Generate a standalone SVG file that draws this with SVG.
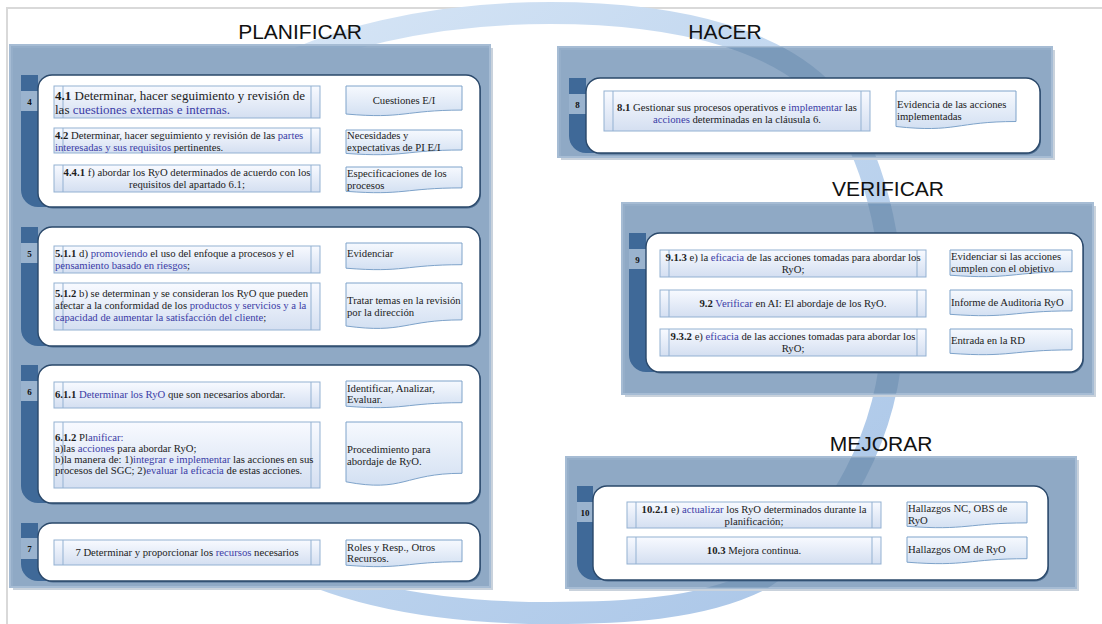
<svg xmlns="http://www.w3.org/2000/svg" width="1102" height="624" viewBox="0 0 1102 624">
  <defs>
    <style>
      .ttl{font-family:"Liberation Sans",Arial,sans-serif;font-size:21px;fill:#111;text-anchor:middle}
      .s{font-family:"Liberation Serif","Times New Roman",serif;font-size:10.7px;fill:#1c1c1c}
      .L{font-size:13px}
      .b{font-weight:bold}
      .k{fill:#3b3ca6}
      .c{text-anchor:middle}
      .num{font-family:"Liberation Serif","Times New Roman",serif;font-size:9px;font-weight:bold;fill:#111;text-anchor:middle}
      .panel{fill:#86a3c2;fill-opacity:0.88;stroke:#a6bcd4;stroke-width:2}
      .pshadow{fill:#c9d2dc}
      .dark{fill:#3f6998}
      .cell{fill:#9ab3ce}
      .wbox{fill:#ffffff;stroke:#2a486a;stroke-width:1.4}
      .wshadow{fill:#4d6d90}
      .proc{fill:url(#gProc);stroke:#93b1d2;stroke-width:1}
      .inner{stroke:#93b1d2;stroke-width:1}
      .doc{fill:url(#gDoc);stroke:#7ea3ca;stroke-width:1}
      .arr{stroke:#5f92c5;stroke-width:1;fill:none;marker-end:url(#ah)}
    </style>
    <linearGradient id="gProc" x1="0" y1="0" x2="0" y2="1">
      <stop offset="0" stop-color="#f8faff"/>
      <stop offset="1" stop-color="#d4dff1"/>
    </linearGradient>
    <linearGradient id="gDoc" x1="0" y1="0" x2="0" y2="1">
      <stop offset="0" stop-color="#f6f9fe"/>
      <stop offset="1" stop-color="#d3e0f2"/>
    </linearGradient>
    <linearGradient id="gRing" x1="0" y1="0" x2="1" y2="1">
      <stop offset="0" stop-color="#dce9f7"/>
      <stop offset="0.5" stop-color="#c0d6ef"/>
      <stop offset="1" stop-color="#a9c5e7"/>
    </linearGradient>
    <marker id="ah" viewBox="0 0 6 6" refX="5.5" refY="3" markerWidth="5" markerHeight="5" orient="auto" markerUnits="userSpaceOnUse">
      <path d="M0,0 L6,3 L0,6 Z" fill="#5f92c5"/>
    </marker>
    <clipPath id="rightPanels">
      <rect x="558" y="47" width="494" height="110"/>
      <rect x="622" y="203" width="471" height="191"/>
      <rect x="566" y="457" width="513" height="131"/>
    </clipPath>
  </defs>

  <rect x="0" y="0" width="1102" height="624" fill="#ffffff"/>
  <!-- outer frame -->
  <path d="M7,624 V8 H1102" fill="none" stroke="#d9d9d9" stroke-width="2"/>

  <!-- background cycle ring -->
  <path id="ring" d="M550,13 C680,13 790,40 840,110 C880,170 895,260 893,330 C890,430 840,530 760,580 C700,610 620,613 550,613 C450,613 350,600 270,555 C180,500 125,420 122,330 C120,230 160,150 240,90 C320,35 440,13 550,13 Z" fill="none" stroke="url(#gRing)" stroke-width="22"/>

  <!-- panels -->
  <rect class="pshadow" x="13" y="48" width="480" height="542"/>
  <rect class="panel" x="10" y="45" width="480" height="542"/>
  <rect class="pshadow" x="561" y="50" width="494" height="110"/>
  <rect class="panel" x="558" y="47" width="494" height="110"/>
  <rect class="pshadow" x="625" y="206" width="471" height="191"/>
  <rect class="panel" x="622" y="203" width="471" height="191"/>
  <rect class="pshadow" x="569" y="460" width="510" height="131"/>
  <rect class="panel" x="566" y="457" width="510" height="131"/>
  <path d="M550,13 C680,13 790,40 840,110 C880,170 895,260 893,330 C890,430 840,530 760,580 C700,610 620,613 550,613" fill="none" stroke="#2f5f93" stroke-opacity="0.2" stroke-width="22" clip-path="url(#rightPanels)"/>

  <!-- titles -->
  <text class="ttl" x="300" y="39">PLANIFICAR</text>
  <text class="ttl" x="725" y="39">HACER</text>
  <text class="ttl" x="888" y="196">VERIFICAR</text>
  <text class="ttl" x="881" y="451">MEJORAR</text>

  <!-- connectors -->
  <g id="connectors">
    <line class="arr" x1="320" y1="102" x2="346" y2="102"/>
    <line class="arr" x1="320" y1="141" x2="346" y2="141"/>
    <line class="arr" x1="320" y1="178" x2="346" y2="178"/>
    <line class="arr" x1="320" y1="259" x2="346" y2="256"/>
    <line class="arr" x1="320" y1="307" x2="346" y2="307"/>
    <line class="arr" x1="320" y1="395" x2="346" y2="395"/>
    <line class="arr" x1="320" y1="452" x2="346" y2="452"/>
    <line class="arr" x1="320" y1="552" x2="346" y2="552"/>
    <line class="arr" x1="870" y1="114" x2="896" y2="114"/>
    <line class="arr" x1="926" y1="263" x2="950" y2="263"/>
    <line class="arr" x1="926" y1="303" x2="950" y2="303"/>
    <line class="arr" x1="926" y1="342" x2="950" y2="342"/>
    <line class="arr" x1="881" y1="514" x2="907" y2="514"/>
    <line class="arr" x1="881" y1="550" x2="907" y2="550"/>
  </g>

  <!-- clause 4 -->
  <g id="g4">
    <rect class="dark" x="21" y="75" width="17" height="16"/>
    <rect class="cell" x="21" y="91" width="17" height="20"/>
    <path class="dark" d="M21,111 H50 V207 H38 A17,17 0 0 1 21,190 Z"/>
    <rect class="wshadow" x="39" y="76.5" width="442" height="132" rx="14"/>
    <rect class="wbox" x="38" y="75" width="442" height="132" rx="14"/>
    <text class="num" x="29.5" y="105">4</text>
    <g id="p41">
      <rect class="proc" x="54" y="86" width="266" height="32"/>
      <line class="inner" x1="63" y1="86" x2="63" y2="118"/>
      <line class="inner" x1="311" y1="86" x2="311" y2="118"/>
      <text class="s L" x="55" y="100"><tspan class="b">4.1</tspan> Determinar, hacer seguimiento y revisión de</text>
      <text class="s L" x="55" y="114">las <tspan class="k">cuestiones externas e internas.</tspan></text>
    </g>
    <g id="d41">
      <path class="doc" d="M346,86 H462 V110.1 C404,110.1 404,119.2 346,114 Z"/>
      <text class="s c" x="404" y="104">Cuestiones E/I</text>
    </g>
    <g id="p42">
      <rect class="proc" x="54" y="128" width="266" height="25"/>
      <line class="inner" x1="63" y1="128" x2="63" y2="153"/>
      <line class="inner" x1="311" y1="128" x2="311" y2="153"/>
      <text class="s" x="55" y="139"><tspan class="b">4.2</tspan> Determinar, hacer seguimiento y revisión de las <tspan class="k">partes</tspan></text>
      <text class="s" x="55" y="150.5"><tspan class="k">interesadas y sus requisitos</tspan> pertinentes.</text>
    </g>
    <g id="d42">
      <path class="doc" d="M346,130 H462 V150 C404,150 404,157.7 346,153.4 Z"/>
      <text class="s" x="347" y="139">Necesidades y</text>
      <text class="s" x="347" y="150.5">expectativas de PI E/I</text>
    </g>
    <g id="p441">
      <rect class="proc" x="54" y="165" width="266" height="27"/>
      <line class="inner" x1="63" y1="165" x2="63" y2="192"/>
      <line class="inner" x1="311" y1="165" x2="311" y2="192"/>
      <text class="s c" x="187" y="176"><tspan class="b">4.4.1</tspan> f) abordar los RyO determinados de acuerdo con los</text>
      <text class="s c" x="187" y="188">requisitos del apartado 6.1;</text>
    </g>
    <g id="d441">
      <path class="doc" d="M346,167 H462 V187.9 C404,187.9 404,195.8 346,191.3 Z"/>
      <text class="s" x="347" y="177">Especificaciones de los</text>
      <text class="s" x="347" y="189">procesos</text>
    </g>
  </g>

  <!-- clause 5 -->
  <g id="g5">
    <rect class="dark" x="21" y="227" width="17" height="16"/>
    <rect class="cell" x="21" y="243" width="17" height="20"/>
    <path class="dark" d="M21,263 H50 V346 H38 A17,17 0 0 1 21,329 Z"/>
    <rect class="wshadow" x="39" y="228.5" width="442" height="119" rx="14"/>
    <rect class="wbox" x="38" y="227" width="442" height="119" rx="14"/>
    <text class="num" x="29.5" y="257">5</text>
    <g id="p511">
      <rect class="proc" x="54" y="246" width="266" height="27"/>
      <line class="inner" x1="63" y1="246" x2="63" y2="273"/>
      <line class="inner" x1="311" y1="246" x2="311" y2="273"/>
      <text class="s" x="55" y="257"><tspan class="b">5.1.1</tspan> d) <tspan class="k">promoviendo</tspan> el uso del enfoque a procesos y el</text>
      <text class="s" x="55" y="269"><tspan class="k">pensamiento basado en riesgos</tspan>;</text>
    </g>
    <g id="d511">
      <path class="doc" d="M346,243 H462 V264.7 C404,264.7 404,272.9 346,268.2 Z"/>
      <text class="s" x="347" y="257">Evidenciar</text>
    </g>
    <g id="p512">
      <rect class="proc" x="54" y="283" width="266" height="47"/>
      <line class="inner" x1="63" y1="283" x2="63" y2="330"/>
      <line class="inner" x1="311" y1="283" x2="311" y2="330"/>
      <text class="s" x="55" y="297"><tspan class="b">5.1.2</tspan> b) se determinan y se consideran los RyO que pueden</text>
      <text class="s" x="55" y="309">afectar a la conformidad de los <tspan class="k">productos y servicios y a la</tspan></text>
      <text class="s" x="55" y="321"><tspan class="k">capacidad de aumentar la satisfacción del cliente</tspan>;</text>
    </g>
    <g id="d512">
      <path class="doc" d="M346,283 H462 V319.9 C404,319.9 404,333.9 346,326 Z"/>
      <text class="s" x="347" y="304">Tratar temas en la revisión</text>
      <text class="s" x="347" y="316">por la dirección</text>
    </g>
  </g>

  <!-- clause 6 -->
  <g id="g6">
    <rect class="dark" x="21" y="365" width="17" height="16"/>
    <rect class="cell" x="21" y="381" width="17" height="20"/>
    <path class="dark" d="M21,401 H50 V503 H38 A17,17 0 0 1 21,486 Z"/>
    <rect class="wshadow" x="39" y="366.5" width="442" height="138" rx="14"/>
    <rect class="wbox" x="38" y="365" width="442" height="138" rx="14"/>
    <text class="num" x="29.5" y="395">6</text>
    <g id="p611">
      <rect class="proc" x="54" y="382" width="266" height="26"/>
      <line class="inner" x1="63" y1="382" x2="63" y2="408"/>
      <line class="inner" x1="311" y1="382" x2="311" y2="408"/>
      <text class="s" x="55" y="398"><tspan class="b">6.1.1</tspan> <tspan class="k">Determinar los RyO</tspan> que son necesarios abordar.</text>
    </g>
    <g id="d611">
      <path class="doc" d="M346,381 H462 V402.7 C404,402.7 404,410.9 346,406.2 Z"/>
      <text class="s" x="347" y="392">Identificar, Analizar,</text>
      <text class="s" x="347" y="403">Evaluar.</text>
    </g>
    <g id="p612">
      <rect class="proc" x="54" y="422" width="266" height="66"/>
      <line class="inner" x1="63" y1="422" x2="63" y2="488"/>
      <line class="inner" x1="311" y1="422" x2="311" y2="488"/>
      <text class="s" x="55" y="441"><tspan class="b">6.1.2</tspan> Pl<tspan class="k">anificar:</tspan></text>
      <text class="s" x="55" y="452">a)las <tspan class="k">acciones</tspan> para abordar RyO;</text>
      <text class="s" x="55" y="463">b)la manera de: 1)<tspan class="k">integrar e implementar</tspan> las acciones en sus</text>
      <text class="s" x="55" y="474">procesos del SGC; 2)<tspan class="k">evaluar la eficacia</tspan> de estas acciones.</text>
    </g>
    <g id="d612">
      <path class="doc" d="M346,422 H462 V473.3 C404,473.3 404,492.9 346,481.8 Z"/>
      <text class="s" x="347" y="453">Procedimiento para</text>
      <text class="s" x="347" y="465">abordaje de RyO.</text>
    </g>
  </g>

  <!-- clause 7 -->
  <g id="g7">
    <rect class="dark" x="21" y="523" width="17" height="15"/>
    <rect class="cell" x="21" y="538" width="17" height="21"/>
    <path class="dark" d="M21,559 H50 V581 H38 A17,17 0 0 1 21,564 Z"/>
    <rect class="wshadow" x="39" y="524.5" width="442" height="58" rx="14"/>
    <rect class="wbox" x="38" y="523" width="442" height="58" rx="14"/>
    <text class="num" x="29.5" y="552">7</text>
    <g id="p7">
      <rect class="proc" x="54" y="540" width="266" height="25"/>
      <line class="inner" x1="63" y1="540" x2="63" y2="565"/>
      <line class="inner" x1="311" y1="540" x2="311" y2="565"/>
      <text class="s c" x="187" y="556">7 Determinar y proporcionar los <tspan class="k">recursos</tspan> necesarios</text>
    </g>
    <g id="d7">
      <path class="doc" d="M346,540 H462 V561.7 C404,561.7 404,569.9 346,565.2 Z"/>
      <text class="s" x="347" y="551">Roles y Resp., Otros</text>
      <text class="s" x="347" y="562">Recursos.</text>
    </g>
  </g>

  <!-- clause 8 -->
  <g id="g8">
    <rect class="dark" x="569" y="78" width="17" height="16"/>
    <rect class="cell" x="569" y="94" width="17" height="20"/>
    <path class="dark" d="M569,114 H598 V153 H586 A17,17 0 0 1 569,136 Z"/>
    <rect class="wshadow" x="587" y="79.5" width="454" height="75" rx="14"/>
    <rect class="wbox" x="586" y="78" width="454" height="75" rx="14"/>
    <text class="num" x="577.5" y="108">8</text>
    <g id="p81">
      <rect class="proc" x="604" y="91" width="266" height="40"/>
      <line class="inner" x1="613" y1="91" x2="613" y2="131"/>
      <line class="inner" x1="861" y1="91" x2="861" y2="131"/>
      <text class="s c" x="737" y="111"><tspan class="b">8.1</tspan> Gestionar sus procesos operativos e <tspan class="k">implementar</tspan> las</text>
      <text class="s c" x="737" y="123"><tspan class="k">acciones</tspan> determinadas en la cláusula 6.</text>
    </g>
    <g id="d81">
      <path class="doc" d="M896,91 H1016 V121.5 C956,121.5 956,133.1 896,126.5 Z"/>
      <text class="s" x="897" y="108">Evidencia de las acciones</text>
      <text class="s" x="897" y="120">implementadas</text>
    </g>
  </g>

  <!-- clause 9 -->
  <g id="g9">
    <rect class="dark" x="629" y="233" width="17" height="16"/>
    <rect class="cell" x="629" y="249" width="17" height="20"/>
    <path class="dark" d="M629,269 H658 V372 H646 A17,17 0 0 1 629,355 Z"/>
    <rect class="wshadow" x="647" y="234.5" width="437" height="139" rx="14"/>
    <rect class="wbox" x="646" y="233" width="437" height="139" rx="14"/>
    <text class="num" x="637.5" y="263">9</text>
    <g id="p913">
      <rect class="proc" x="660" y="250" width="266" height="27"/>
      <line class="inner" x1="669" y1="250" x2="669" y2="277"/>
      <line class="inner" x1="917" y1="250" x2="917" y2="277"/>
      <text class="s c" x="793" y="261"><tspan class="b">9.1.3</tspan> e) la <tspan class="k">eficacia</tspan> de las acciones tomadas para abordar los</text>
      <text class="s c" x="793" y="273">RyO;</text>
    </g>
    <g id="d913">
      <path class="doc" d="M950,250 H1072 V271.7 C1011,271.7 1011,279.9 950,275.2 Z"/>
      <text class="s" x="951" y="260">Evidenciar si las acciones</text>
      <text class="s" x="951" y="271.5">cumplen con el objetivo</text>
    </g>
    <g id="p92">
      <rect class="proc" x="660" y="290" width="266" height="27"/>
      <line class="inner" x1="669" y1="290" x2="669" y2="317"/>
      <line class="inner" x1="917" y1="290" x2="917" y2="317"/>
      <text class="s c" x="793" y="307"><tspan class="b">9.2</tspan> <tspan class="k">Verificar</tspan> en AI: El abordaje de los RyO.</text>
    </g>
    <g id="d92">
      <path class="doc" d="M950,290 H1072 V310.9 C1011,310.9 1011,318.8 950,314.3 Z"/>
      <text class="s" x="951" y="306">Informe de Auditoria RyO</text>
    </g>
    <g id="p932">
      <rect class="proc" x="660" y="329" width="266" height="27"/>
      <line class="inner" x1="669" y1="329" x2="669" y2="356"/>
      <line class="inner" x1="917" y1="329" x2="917" y2="356"/>
      <text class="s c" x="793" y="340"><tspan class="b">9.3.2</tspan> e) <tspan class="k">eficacia</tspan> de las acciones tomadas para abordar los</text>
      <text class="s c" x="793" y="352">RyO;</text>
    </g>
    <g id="d932">
      <path class="doc" d="M950,329 H1072 V349.9 C1011,349.9 1011,357.8 950,353.3 Z"/>
      <text class="s" x="951" y="344">Entrada en la RD</text>
    </g>
  </g>

  <!-- clause 10 -->
  <g id="g10">
    <rect class="dark" x="577" y="486" width="16" height="16"/>
    <rect class="cell" x="577" y="502" width="16" height="20"/>
    <path class="dark" d="M577,522 H605 V580 H594 A17,17 0 0 1 577,563 Z"/>
    <rect class="wshadow" x="594" y="487.5" width="455" height="94" rx="14"/>
    <rect class="wbox" x="593" y="486" width="455" height="94" rx="14"/>
    <text class="num" x="585" y="516">10</text>
    <g id="p1021">
      <rect class="proc" x="627" y="502" width="254" height="26"/>
      <line class="inner" x1="636" y1="502" x2="636" y2="528"/>
      <line class="inner" x1="872" y1="502" x2="872" y2="528"/>
      <text class="s c" x="754" y="513"><tspan class="b">10.2.1</tspan> e) <tspan class="k">actualizar</tspan> los RyO determinados durante la</text>
      <text class="s c" x="754" y="525">planificación;</text>
    </g>
    <g id="d1021">
      <path class="doc" d="M907,502 H1027 V522.9 C967,522.9 967,530.8 907,526.3 Z"/>
      <text class="s" x="908" y="512">Hallazgos NC, OBS de</text>
      <text class="s" x="908" y="523.5">RyO</text>
    </g>
    <g id="p103">
      <rect class="proc" x="627" y="537" width="254" height="27"/>
      <line class="inner" x1="636" y1="537" x2="636" y2="564"/>
      <line class="inner" x1="872" y1="537" x2="872" y2="564"/>
      <text class="s c" x="754" y="554"><tspan class="b">10.3</tspan> Mejora continua.</text>
    </g>
    <g id="d103">
      <path class="doc" d="M907,537 H1027 V558.7 C967,558.7 967,566.9 907,562.2 Z"/>
      <text class="s" x="908" y="553">Hallazgos OM de RyO</text>
    </g>
  </g>
</svg>
